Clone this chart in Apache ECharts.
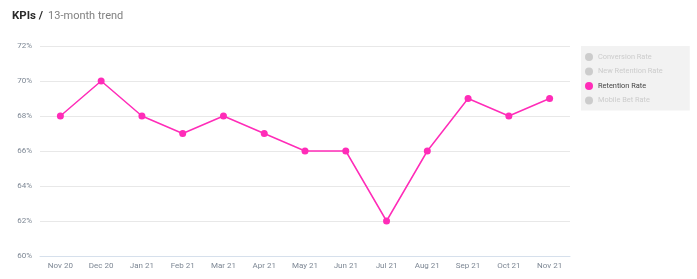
<!DOCTYPE html>
<html><head><meta charset="utf-8">
<script src="https://cdn.jsdelivr.net/npm/echarts@6/dist/echarts.min.js"></script>
<style>html,body{margin:0;padding:0;background:#fff}#c{width:697px;height:279px}</style>
</head><body><div id="c"></div>
<script>
const categories = ['Nov 20','Dec 20','Jan 21','Feb 21','Mar 21','Apr 21','May 21','Jun 21','Jul 21','Aug 21','Sep 21','Oct 21','Nov 21'];
const retentionRate = [68,70,68,67,68,67,66,66,62,66,69,68,69];
const conversionRate = [];
const newRetentionRate = [];
const mobileBetRate = [];
const yTicks = {min:60, max:72, interval:2};

const chart = echarts.init(document.getElementById('c'));
const pink = '#ff2cb8';
chart.setOption({
  animation:false,
  color:['#c8c8c8','#c8c8c8',pink,'#c8c8c8'],
  title:{
    text:'{b|KPIs /} {l|13-month trend}',
    left:7, top:2,
    textStyle:{fontWeight:'normal',rich:{
      b:{fontFamily:'Roboto',fontWeight:'bold',fontSize:11.5,color:'#2b2b2b'},
      l:{fontFamily:'Roboto',fontWeight:'normal',fontSize:11,color:'#808080'}
    }}
  },
  legend:{
    orient:'vertical', left:581, top:46,
    padding:[7,27,6,4], itemGap:6.5,
    backgroundColor:'#f2f2f2',
    icon:'circle', itemWidth:8, itemHeight:8,
    inactiveColor:'#cccccc',
    textStyle:{fontFamily:'Roboto',fontSize:7.4,color:'#444',padding:[1,0,0,0]},
    selected:{'Conversion Rate':false,'New Retention Rate':false,'Retention Rate':true,'Mobile Bet Rate':false},
    data:['Conversion Rate','New Retention Rate','Retention Rate','Mobile Bet Rate']
  },
  grid:{left:40, right:127, top:46, bottom:23},
  xAxis:{
    type:'category', data:categories, boundaryGap:true,
    axisLine:{lineStyle:{color:'#d6e0ec'}},
    axisTick:{alignWithLabel:true, lineStyle:{color:'#d6e0ec'}},
    axisLabel:{fontFamily:'Roboto',fontSize:8,color:'#7d8794',margin:6}
  },
  yAxis:{
    type:'value', min:yTicks.min, max:yTicks.max, interval:yTicks.interval,
    axisLine:{show:false}, axisTick:{show:false},
    splitLine:{lineStyle:{color:'#e8e8e8'}},
    axisLabel:{formatter:'{value}%',fontFamily:'Roboto',fontSize:8,color:'#7d8794',margin:8}
  },
  series:[
    {name:'Conversion Rate',type:'line',data:conversionRate},
    {name:'New Retention Rate',type:'line',data:newRetentionRate},
    {name:'Retention Rate',type:'line',data:retentionRate,symbol:'circle',symbolSize:7,
     lineStyle:{color:pink,width:1.5},itemStyle:{color:pink}},
    {name:'Mobile Bet Rate',type:'line',data:mobileBetRate}
  ]
});
</script></body></html>
